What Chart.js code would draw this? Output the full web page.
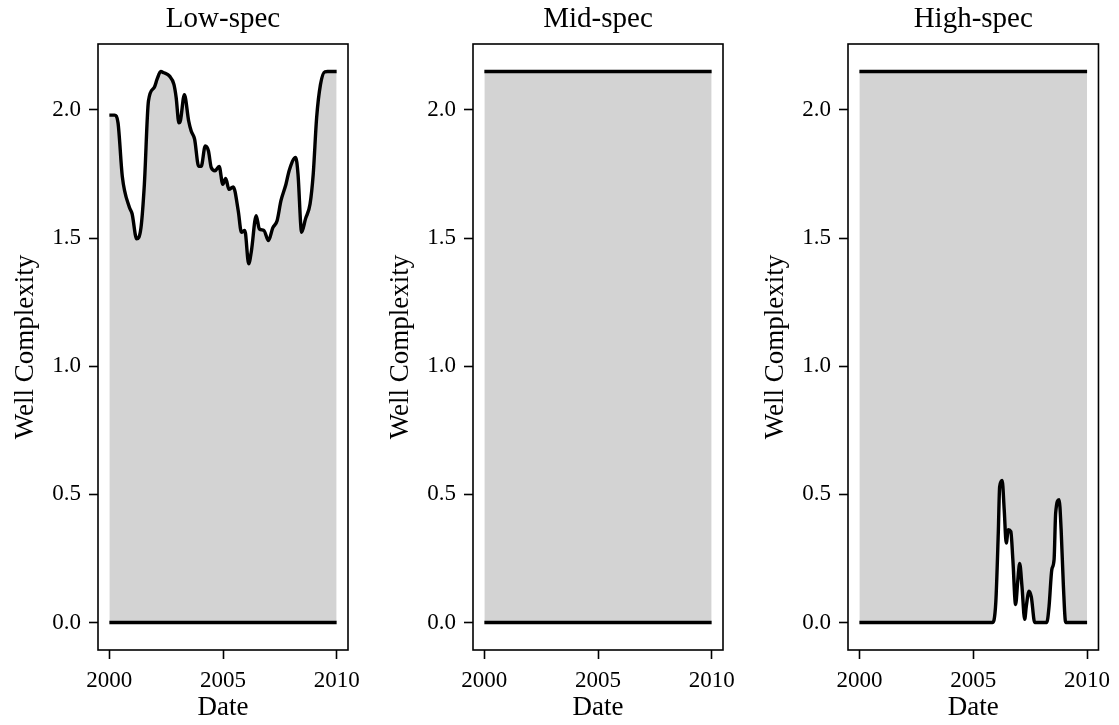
<!DOCTYPE html>
<html><head><meta charset="utf-8">
<script src="https://cdn.jsdelivr.net/npm/chart.js@4.4.0/dist/chart.umd.min.js"></script>
<style>
html,body{margin:0;padding:0;background:#fff;}
#wrap{position:relative;width:1119px;height:725px;overflow:hidden;background:#fff;}
canvas{position:absolute;top:0;}
</style></head><body>
<div id="wrap">
<canvas id="c0" width="375" height="725" style="left:0px;width:375px;height:725px"></canvas>
<canvas id="c1" width="375" height="725" style="left:375px;width:375px;height:725px"></canvas>
<canvas id="c2" width="369" height="725" style="left:750px;width:369px;height:725px"></canvas>
</div>
<script>
// ---- data ----
const panelTitles = ["Low-spec", "Mid-spec", "High-spec"];
const xTickValues = [2000, 2005, 2010];
const yTickValues = [0.0, 0.5, 1.0, 1.5, 2.0];
const xAxisLabel = "Date";
const yAxisLabel = "Well Complexity";

// Low-spec: upper boundary varies, lower boundary is 0
const lowDates = [2000.0, 2000.23, 2000.38, 2000.57, 2000.88, 2001.0, 2001.2, 2001.39, 2001.54, 2001.72,
  2001.97, 2002.1, 2002.26, 2002.4, 2002.65, 2002.84, 2002.94, 2003.06, 2003.13, 2003.3,
  2003.49, 2003.6, 2003.75, 2003.93, 2004.04, 2004.22, 2004.36, 2004.48, 2004.65, 2004.83,
  2004.99, 2005.12, 2005.26, 2005.45, 2005.67, 2005.81, 2005.96, 2006.13, 2006.25, 2006.46,
  2006.6, 2006.8, 2007.0, 2007.19, 2007.38, 2007.55, 2007.77, 2007.91, 2008.2, 2008.3,
  2008.46, 2008.63, 2008.83, 2008.97, 2009.12, 2009.29, 2009.48, 2009.6, 2010.0];
const lowUpper = [1.98, 1.98, 1.95, 1.74, 1.62, 1.595, 1.497, 1.54, 1.71, 2.035,
  2.087, 2.12, 2.15, 2.145, 2.132, 2.10, 2.048, 1.95, 1.96, 2.06,
  1.957, 1.918, 1.886, 1.78, 1.78, 1.86, 1.84, 1.776, 1.763, 1.78,
  1.71, 1.733, 1.69, 1.70, 1.607, 1.523, 1.53, 1.40, 1.45, 1.587,
  1.536, 1.53, 1.49, 1.54, 1.568, 1.646, 1.71, 1.763, 1.815, 1.75,
  1.523, 1.575, 1.633, 1.75, 1.97, 2.10, 2.149, 2.15, 2.15];
const lowFloorDates = [2000, 2010];
const lowLower = [0, 0];

// Mid-spec: both boundaries constant
const midDates = [2000, 2010];
const midLower = [0, 0];
const midUpper = [2.15, 2.15];

// High-spec: lower boundary varies, upper boundary constant
const highDates = [2000.0, 2005.84, 2005.99, 2006.1, 2006.16, 2006.27, 2006.36, 2006.45, 2006.54, 2006.65,
  2006.74, 2006.86, 2006.96, 2007.04, 2007.14, 2007.26, 2007.33, 2007.45, 2007.55, 2007.7,
  2008.23, 2008.33, 2008.45, 2008.55, 2008.62, 2008.77, 2008.86, 2008.96, 2009.06, 2010.0];
const highLower = [0, 0, 0.077, 0.349, 0.53, 0.554, 0.44, 0.31, 0.362, 0.355,
  0.245, 0.07, 0.167, 0.23, 0.141, 0.012, 0.063, 0.122, 0.10, 0,
  0, 0.063, 0.206, 0.245, 0.427, 0.479, 0.362, 0.141, 0, 0];
const highCeilDates = [2000, 2010];
const highUpper = [2.15, 2.15];

// ---- helpers ----
const FONT = '"Liberation Serif", "DejaVu Serif", serif';
const pts = (xs, ys) => xs.map((x, i) => ({x: x, y: ys[i]}));

const panels = [
  {lower: pts(lowFloorDates, lowLower), upper: pts(lowDates, lowUpper), fillOn: 'upper', fill: 'origin'},
  {lower: pts(midDates, midLower), upper: pts(midDates, midUpper), fillOn: 'upper', fill: 'origin'},
  {lower: pts(highDates, highLower), upper: pts(highCeilDates, highUpper), fillOn: 'lower', fill: {value: highUpper[0]}}
];

const frameAndTitle = {
  id: 'frameAndTitle',
  afterDraw(chart) {
    const {ctx, chartArea: a} = chart;
    ctx.save();
    ctx.strokeStyle = '#000';
    ctx.lineWidth = 1.6;
    ctx.strokeRect(a.left, a.top, a.right - a.left, a.bottom - a.top);
    ctx.fillStyle = '#000';
    ctx.font = '29px ' + FONT;
    ctx.textAlign = 'center';
    ctx.textBaseline = 'alphabetic';
    ctx.fillText(chart.options.plugins.frameAndTitle.text, (a.left + a.right) / 2, 27);
    ctx.restore();
  }
};

panels.forEach((p, i) => {
  const canvas = document.getElementById('c' + i);
  const W = canvas.width;
  const plotRight = (i === 2) ? 349 : 348;
  const lineStyle = {borderColor: '#000', borderWidth: 3.4, pointRadius: 0, cubicInterpolationMode: 'monotone', backgroundColor: '#d3d3d3'};
  const lowerDs = Object.assign({data: p.lower, fill: p.fillOn === 'lower' ? p.fill : false}, lineStyle);
  const upperDs = Object.assign({data: p.upper, fill: p.fillOn === 'upper' ? p.fill : false}, lineStyle);
  new Chart(canvas, {
    type: 'line',
    data: {datasets: [lowerDs, upperDs]},
    options: {
      responsive: false,
      animation: false,
      devicePixelRatio: 1,
      layout: {padding: {left: 0, top: 44, right: W - plotRight, bottom: 0}},
      plugins: {
        legend: {display: false},
        tooltip: {enabled: false},
        filler: {drawTime: 'beforeDatasetsDraw'},
        frameAndTitle: {text: panelTitles[i]}
      },
      scales: {
        x: {
          type: 'linear', min: 1999.5, max: 2010.5,
          afterBuildTicks: s => { s.ticks = xTickValues.map(v => ({value: v})); },
          afterFit: s => { s.height = 75; },
          ticks: {autoSkip: false, maxRotation: 0, minRotation: 0, padding: 8, color: '#000',
            font: {family: FONT, size: 23}, callback: v => String(v)},
          grid: {display: true, drawOnChartArea: false, drawTicks: true, tickLength: 9, tickWidth: 1.6, tickColor: '#000'},
          border: {display: false},
          title: {display: true, text: xAxisLabel, color: '#000', font: {family: FONT, size: 27}, padding: {top: 0, bottom: 1}}
        },
        y: {
          type: 'linear', min: -0.1075, max: 2.2575,
          afterBuildTicks: s => { s.ticks = yTickValues.map(v => ({value: v})); },
          afterFit: s => { s.width = 98; },
          ticks: {autoSkip: false, padding: 8, color: '#000',
            font: {family: FONT, size: 23}, callback: v => Number(v).toFixed(1)},
          grid: {display: true, drawOnChartArea: false, drawTicks: true, tickLength: 9, tickWidth: 1.6, tickColor: '#000'},
          border: {display: false},
          title: {display: true, text: yAxisLabel, color: '#000', font: {family: FONT, size: 27}, padding: {top: 10, bottom: 0}}
        }
      }
    },
    plugins: [frameAndTitle]
  });
});
</script>
</body></html>
